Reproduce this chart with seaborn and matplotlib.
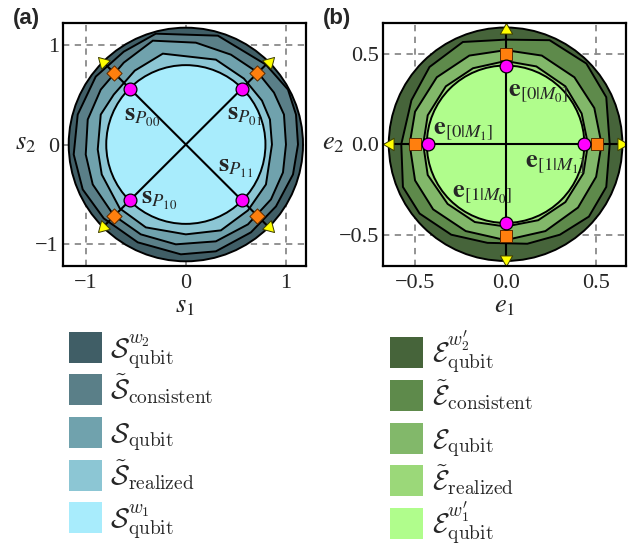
import matplotlib
matplotlib.use("Agg")
import matplotlib.pyplot as plt
import seaborn as sns
from matplotlib.patches import Polygon, Circle, Rectangle

# ---------------- data ----------------
a_ticks = [-1, 0, 1]
a_tick_labels = ["\u22121", "0", "1"]
b_ticks = [-0.5, 0.0, 0.5]
b_tick_labels = ["\u22120.5", "0.0", "0.5"]

# panel (a): nested regions
a_outer_r = 1.17
a_inner_r = 0.795
a_consistent_x = [1.12, 1.10, 1.02, 0.80, 0.32, -0.30, -0.62, -0.90, -1.08, -1.12, -1.03, -0.82, -0.48, -0.05, 0.30, 0.65, 0.90, 1.07]
a_consistent_y = [0.00, 0.30, 0.55, 0.80, 1.09, 1.11, 0.93, 0.68, 0.30, -0.10, -0.45, -0.74, -0.98, -1.10, -1.07, -0.88, -0.62, -0.30]
a_qubit_x = [1.00, 0.98, 0.88, 0.72, 0.45, 0.10, -0.33, -0.62, -0.85, -0.98, -1.00, -0.93, -0.72, -0.45, -0.10, 0.30, 0.62, 0.85, 0.97]
a_qubit_y = [0.00, 0.30, 0.52, 0.72, 0.90, 1.02, 1.04, 0.82, 0.55, 0.25, -0.10, -0.40, -0.71, -0.90, -1.00, -0.97, -0.80, -0.55, -0.28]
a_realized_x = [0.86, 0.84, 0.76, 0.58, 0.30, -0.23, -0.51, -0.72, -0.85, -0.88, -0.84, -0.66, -0.40, 0.00, 0.35, 0.62, 0.80]
a_realized_y = [0.00, 0.25, 0.44, 0.66, 0.85, 0.91, 0.74, 0.50, 0.30, -0.05, -0.30, -0.64, -0.83, -0.90, -0.86, -0.66, -0.40]

a_pts_x = [-0.56, 0.56, -0.56, 0.56]
a_pts_y = [0.56, 0.56, -0.56, -0.56]
a_dia_x = [-0.715, 0.715, -0.715, 0.715]
a_dia_y = [0.715, 0.715, -0.715, -0.715]
a_tri_x = [-0.83, 0.83, -0.83, 0.83]
a_tri_y = [0.83, 0.83, -0.83, -0.83]
a_tri_rot = [45, -45, 135, -135]
a_labels = [r"$\mathbf{s}_{P_{00}}$", r"$\mathbf{s}_{P_{01}}$", r"$\mathbf{s}_{P_{11}}$", r"$\mathbf{s}_{P_{10}}$"]
a_label_x = [-0.62, 0.407, 0.323, -0.443]
a_label_y = [0.237, 0.25, -0.273, -0.597]

# panel (b): nested regions
b_outer_r = 0.645
b_inner_r = 0.435
b_consistent_x = [0.575, 0.556, 0.446, 0.243, 0.0, -0.236, -0.42, -0.52, -0.576, -0.567, -0.475, -0.30, -0.10, 0.12, 0.30, 0.46, 0.556]
b_consistent_y = [0.0, 0.26, 0.446, 0.575, 0.578, 0.565, 0.427, 0.243, 0.0, -0.236, -0.383, -0.50, -0.545, -0.55, -0.50, -0.40, -0.236]
b_qubit_x = [0.53, 0.49, 0.38, 0.20, 0.0, -0.20, -0.38, -0.50, -0.53, -0.50, -0.40, -0.22, 0.0, 0.22, 0.40, 0.50]
b_qubit_y = [0.0, 0.20, 0.37, 0.49, 0.52, 0.49, 0.37, 0.18, 0.0, -0.20, -0.36, -0.48, -0.53, -0.48, -0.35, -0.18]
b_realized_x = [0.455, 0.42, 0.33, 0.17, 0.0, -0.18, -0.33, -0.43, -0.455, -0.43, -0.32, -0.17, 0.0, 0.18, 0.33, 0.43]
b_realized_y = [0.0, 0.17, 0.32, 0.43, 0.46, 0.42, 0.32, 0.16, 0.0, -0.17, -0.33, -0.43, -0.455, -0.42, -0.32, -0.16]

b_pts_x = [0.0, -0.43, 0.435, 0.0]
b_pts_y = [0.432, 0.0, 0.0, -0.433]
b_sq_x = [0.0, -0.502, 0.505, 0.0]
b_sq_y = [0.5, 0.0, 0.0, -0.505]
b_tri_x = [0.0, -0.637, 0.639, 0.0]
b_tri_y = [0.634, 0.0, 0.0, -0.637]
b_tri_rot = [0, 90, -90, 180]
b_labels = [r"$\mathbf{e}_{[0|M_0]}$", r"$\mathbf{e}_{[0|M_1]}$", r"$\mathbf{e}_{[1|M_1]}$", r"$\mathbf{e}_{[1|M_0]}$"]
b_label_x = [0.013, -0.40, 0.105, -0.295]
b_label_y = [0.27, 0.059, -0.122, -0.291]

blue_colors = ["#405e66", "#5a7f88", "#70a2ad", "#8cc6d4", "#a8ecfc"]
green_colors = ["#46643a", "#5e8a4b", "#82b86a", "#9bd879", "#b0fd8c"]
a_legend = [r"$\mathcal{S}_{\mathrm{qubit}}^{w_2}$", r"$\tilde{\mathcal{S}}_{\mathrm{consistent}}$",
            r"$\mathcal{S}_{\mathrm{qubit}}$", r"$\tilde{\mathcal{S}}_{\mathrm{realized}}$",
            r"$\mathcal{S}_{\mathrm{qubit}}^{w_1}$"]
b_legend = [r"$\mathcal{E}_{\mathrm{qubit}}^{w_2^\prime}$", r"$\tilde{\mathcal{E}}_{\mathrm{consistent}}$",
            r"$\mathcal{E}_{\mathrm{qubit}}$", r"$\tilde{\mathcal{E}}_{\mathrm{realized}}$",
            r"$\mathcal{E}_{\mathrm{qubit}}^{w_1^\prime}$"]

# ---------------- style ----------------
sns.set_theme(style="white")
plt.rcParams["font.family"] = ["Liberation Serif", "DejaVu Serif"]
plt.rcParams["mathtext.fontset"] = "stix"

W, H = 644, 548
fig = plt.figure(figsize=(W / 100, H / 100), dpi=100)
ax_a = fig.add_axes([63 / W, 1 - 266 / H, 243 / W, 243 / H])
ax_b = fig.add_axes([383 / W, 1 - 266 / H, 243 / W, 243 / H])

EDGE = "black"
LW = 1.4


def draw_regions(ax, outer_r, inner_r, polys, colors):
    ax.add_patch(Circle((0, 0), outer_r, facecolor=colors[0], edgecolor=EDGE, lw=LW, zorder=2))
    for (px, py), c in zip(polys, colors[1:4]):
        ax.add_patch(Polygon(list(zip(px, py)), closed=True, facecolor=c, edgecolor=EDGE, lw=LW, zorder=2))
    ax.add_patch(Circle((0, 0), inner_r, facecolor=colors[4], edgecolor=EDGE, lw=LW, zorder=2))


def style_axes(ax, ticks, ticklabels, xlim, ylim):
    ax.set_xlim(*xlim)
    ax.set_ylim(*ylim)
    ax.set_aspect("auto")
    ax.set_xticks(ticks)
    ax.set_yticks(ticks)
    ax.set_xticklabels(ticklabels)
    ax.set_yticklabels(ticklabels)
    ax.tick_params(axis="x", length=0, pad=6, labelsize=16)
    ax.tick_params(axis="y", length=0, pad=3, labelsize=16)
    ax.grid(True, linestyle=(0, (3.5, 3)), color="#8a8a8a", lw=1.3)
    ax.set_axisbelow(True)
    for s in ax.spines.values():
        s.set_color("black")
        s.set_linewidth(1.6)
        s.set_zorder(6)


def draw_markers(ax, tri_x, tri_y, tri_rot, mid_x, mid_y, mid_marker, mid_size, pts_x, pts_y):
    for x, y, r in zip(tri_x, tri_y, tri_rot):
        sns.scatterplot(x=[x], y=[y], marker=(3, 0, r), s=105, color="#ffff00", edgecolor="#3a3a00",
                        linewidth=0.7, ax=ax, zorder=5)
    sns.scatterplot(x=mid_x, y=mid_y, marker=mid_marker, s=mid_size, color="#ff7f0e", edgecolor="#5a2a00",
                    linewidth=0.7, ax=ax, zorder=5)
    sns.scatterplot(x=pts_x, y=pts_y, marker="o", s=85, color="#ff00ff", edgecolor="black",
                    linewidth=0.9, ax=ax, zorder=5)


# ---------------- panel (a) ----------------
draw_regions(ax_a, a_outer_r, a_inner_r,
             [(a_consistent_x, a_consistent_y), (a_qubit_x, a_qubit_y), (a_realized_x, a_realized_y)],
             blue_colors)
ax_a.plot([a_tri_x[0], a_tri_x[3]], [a_tri_y[0], a_tri_y[3]], color="black", lw=1.5, zorder=3)
ax_a.plot([a_tri_x[2], a_tri_x[1]], [a_tri_y[2], a_tri_y[1]], color="black", lw=1.5, zorder=3)
draw_markers(ax_a, a_tri_x, a_tri_y, a_tri_rot, a_dia_x, a_dia_y, "D", 60, a_pts_x, a_pts_y)
for t, x, y in zip(a_labels, a_label_x, a_label_y):
    ax_a.text(x, y, t, fontsize=19, ha="left", va="baseline", zorder=6)
style_axes(ax_a, a_ticks, a_tick_labels, (-1.227, 1.2), (-1.217, 1.217))
ax_a.set_xlabel(r"$s_1$", fontsize=19)
ax_a.set_ylabel(r"$s_2$", fontsize=19, rotation=0)
ax_a.xaxis.set_label_coords(0.5, -0.17)
ax_a.yaxis.set_label_coords(-0.155, 0.5)
ax_a.yaxis.label.set_va("center")
ax_a.xaxis.label.set_va("center")

# ---------------- panel (b) ----------------
draw_regions(ax_b, b_outer_r, b_inner_r,
             [(b_consistent_x, b_consistent_y), (b_qubit_x, b_qubit_y), (b_realized_x, b_realized_y)],
             green_colors)
ax_b.plot([b_tri_x[0], b_tri_x[3]], [b_tri_y[0], b_tri_y[3]], color="black", lw=1.5, zorder=3)
ax_b.plot([b_tri_x[1], b_tri_x[2]], [b_tri_y[1], b_tri_y[2]], color="black", lw=1.5, zorder=3)
draw_markers(ax_b, b_tri_x, b_tri_y, b_tri_rot, b_sq_x, b_sq_y, "s", 70, b_pts_x, b_pts_y)
for t, x, y in zip(b_labels, b_label_x, b_label_y):
    ax_b.text(x, y, t, fontsize=19, ha="left", va="baseline", zorder=6)
style_axes(ax_b, b_ticks, b_tick_labels, (-0.677, 0.665), (-0.673, 0.67))
ax_b.set_xlabel(r"$e_1$", fontsize=19)
ax_b.set_ylabel(r"$e_2$", fontsize=19, rotation=0)
ax_b.xaxis.set_label_coords(0.5, -0.17)
ax_b.yaxis.set_label_coords(-0.205, 0.5)
ax_b.yaxis.label.set_va("center")
ax_b.xaxis.label.set_va("center")

# ---------------- panel labels ----------------
fig.text(13 / W, 1 - 8 / H, "(a)", fontsize=16, fontweight="bold", family="Liberation Sans",
         ha="left", va="top")
fig.text(323 / W, 1 - 8 / H, "(b)", fontsize=16, fontweight="bold", family="Liberation Sans",
         ha="left", va="top")

# ---------------- legends: swatch + label per row, evenly spaced ----------------
a_rows = [347, 389, 432, 475, 517]
b_rows = [352, 395, 438, 480, 523]
for colors, labels, x0, xt, rows in [(blue_colors, a_legend, 69, 110, a_rows),
                                     (green_colors, b_legend, 390, 432, b_rows)]:
    for c, lab, yc in zip(colors, labels, rows):
        fig.add_artist(Rectangle((x0 / W, 1 - (yc + 15.5) / H), 33 / W, 31 / H,
                                 transform=fig.transFigure, facecolor=c, edgecolor="none"))
        fig.text(xt / W, 1 - (yc + 10) / H, lab, fontsize=20, math_fontfamily="cm",
                 ha="left", va="baseline")

fig.savefig("out.png", dpi=100)
